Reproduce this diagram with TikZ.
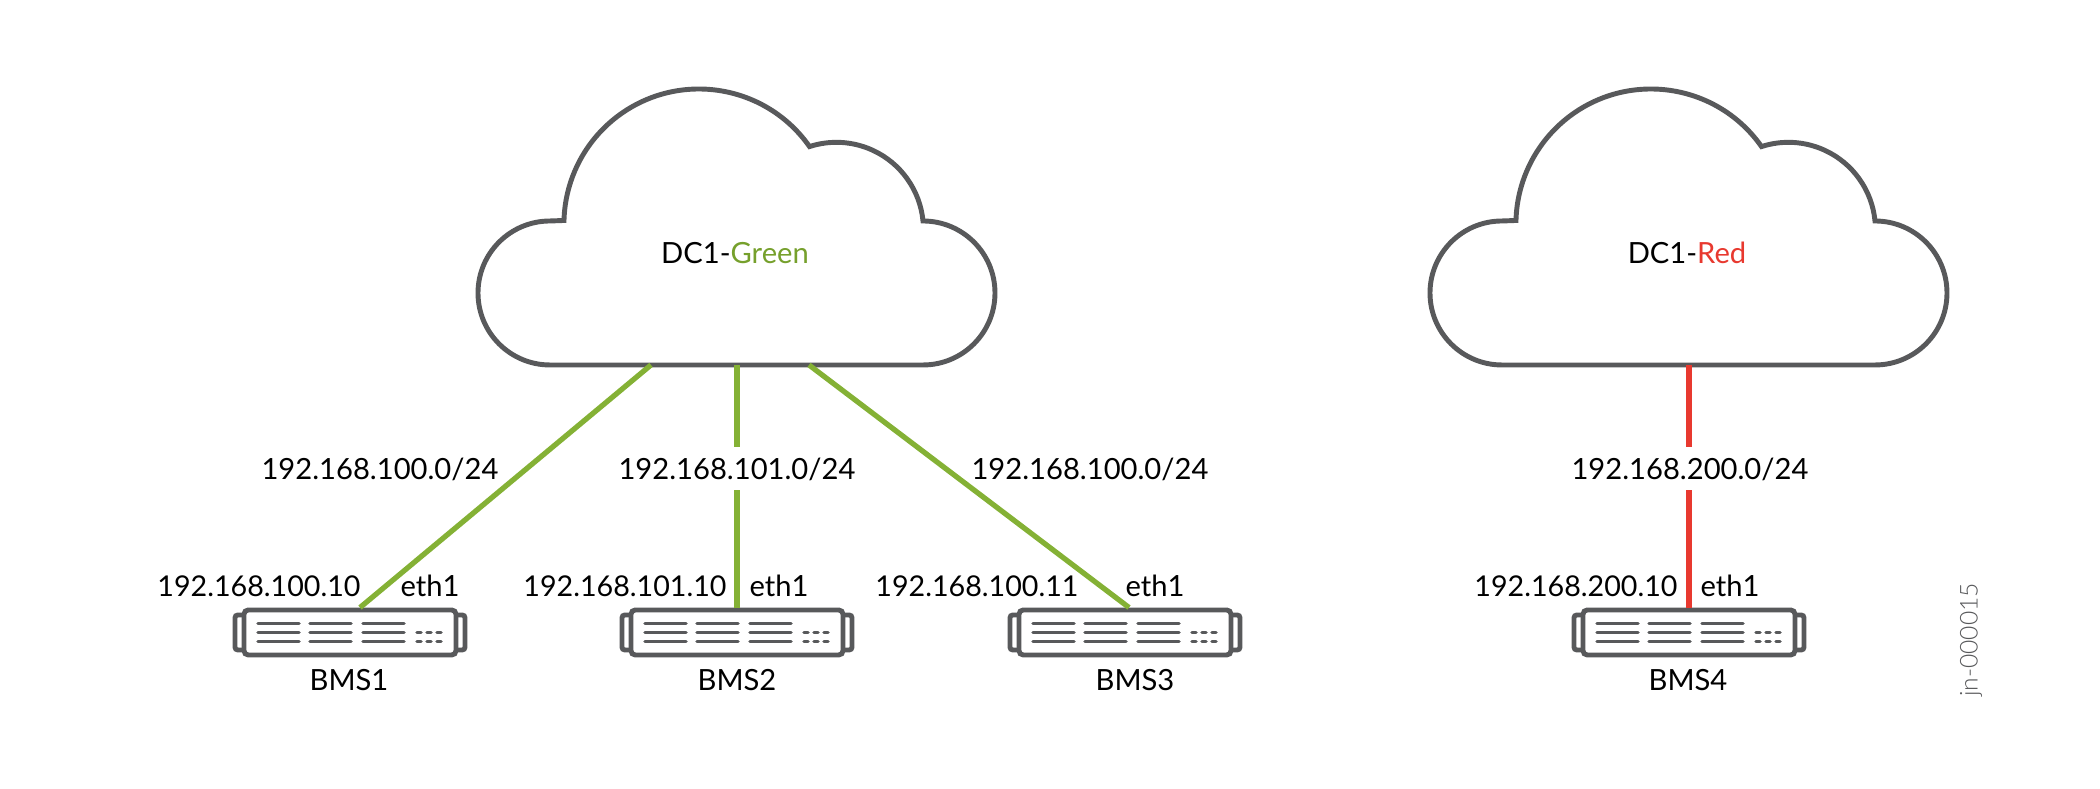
\documentclass[tikz,border=0pt]{standalone}
\usepackage{fontspec}
\setmainfont{Lato}
\newfontfamily\jnfont{Lato Light}
\usepackage{tikz}
\usetikzlibrary{calc}
\definecolor{outline}{HTML}{58595B}
\definecolor{linkgreen}{HTML}{84B135}
\definecolor{textgreen}{HTML}{76A02C}
\definecolor{linkred}{HTML}{E8392F}

\begin{document}
\begin{tikzpicture}[
  line/.style={line width=1.4pt,draw=outline},
  bar/.style={line width=1pt,draw=outline,line cap=round},
  box/.style={rectangle,line,rounded corners=1.2pt,fill=white,inner sep=0pt,
              minimum width=2.12cm,minimum height=0.45cm},
  lbl/.style={font=\fontsize{8.3}{10}\selectfont,inner sep=0pt},
  addr/.style={font=\fontsize{8.15}{10}\selectfont,inner sep=0pt},
  net/.style={lbl,fill=white,minimum height=0.43cm,inner xsep=1pt},
  greenlink/.style={line width=1.5pt,draw=linkgreen},
  redlink/.style={line width=1.5pt,draw=linkred},
  cloud/.pic={
    \draw[line,fill=white] (0,0) -- (3.73,0) arc[start angle=-90,end angle=90,radius=0.72]
      arc[start angle=5.5,end angle=108,radius=0.87]
      arc[start angle=35,end angle=178.5,radius=1.35]
      -- (0,1.44) arc[start angle=90,end angle=270,radius=0.72] -- cycle;
  },
  server/.pic={
    \draw[line,rounded corners=0.8pt] (-1.15,-0.175) rectangle (-1.04,0.175);
    \draw[line,rounded corners=0.8pt] (1.04,-0.175) rectangle (1.15,0.175);
    \node[box] (-box) at (0,0) {};
    % three rows of ports, then the small dashes
    \foreach \yy in {-0.09,0,0.09}{
      \foreach \xx in {-0.92,-0.40,0.13}{
        \draw[bar] (\xx,\yy) -- ++(0.41,0);
      }
    }
    \foreach \yy in {-0.09,0}{
      \foreach \xx in {0.67,0.77,0.87}{
        \draw[bar] (\xx,\yy) -- ++(0.04,0);
      }
    }
  }
]
\useasboundingbox (0,0) rectangle (21,7.89);

\pic at (5.50,4.24) {cloud};
\pic at (15.02,4.24) {cloud};
\node[lbl] (Green) at (7.35,5.36) {DC1-\textcolor{textgreen}{Green}};
\node[lbl] (Red) at (16.87,5.36) {DC1-\textcolor{linkred}{Red}};

\foreach \name/\xx/\lx in {BMS1/3.50/3.49,BMS2/7.37/7.37,BMS3/11.25/11.35,BMS4/16.89/16.88}{
  \pic (\name) at (\xx,1.565) {server};
  \node[lbl] (\name-label) at (\lx,1.09) {\name};
}

\coordinate (GreenA) at (6.51,4.24);
\coordinate (GreenB) at (7.37,4.24);
\coordinate (GreenC) at (8.09,4.24);
\coordinate (RedA) at (16.89,4.24);

\draw[greenlink] (GreenA) -- ($(BMS1-box.north)+(0.10,0)$);
\draw[greenlink] (GreenB) -- (BMS2-box.north);
\draw[greenlink] (GreenC) -- ($(BMS3-box.north)+(0.04,0)$);
\draw[redlink] (RedA) -- (BMS4-box.north);

\foreach \id/\xx/\sty/\txt in {a/3.80/lbl/192.168.100.0\slash 24,b/7.37/net/192.168.101.0\slash 24,c/10.90/lbl/192.168.100.0\slash 24,d/16.90/net/192.168.200.0\slash 24}{
  \node[\sty] (net-\id) at (\xx,3.20) {\txt};
}

\foreach \id/\xx/\ex/\ip in {a/2.59/4.30/192.168.100.10,b/6.25/7.79/192.168.101.10,c/9.77/11.55/192.168.100.11,d/15.76/17.30/192.168.200.10}{
  \node[addr] (ip-\id) at (\xx,2.03) {\ip};
  \node[lbl] (eth-\id) at (\ex,2.03) {eth1};
}

\node[font=\jnfont\fontsize{7}{8}\selectfont,text=outline,rotate=90,inner sep=0pt] (jn) at (19.71,1.49) {jn-000015};
\end{tikzpicture}
\end{document}
